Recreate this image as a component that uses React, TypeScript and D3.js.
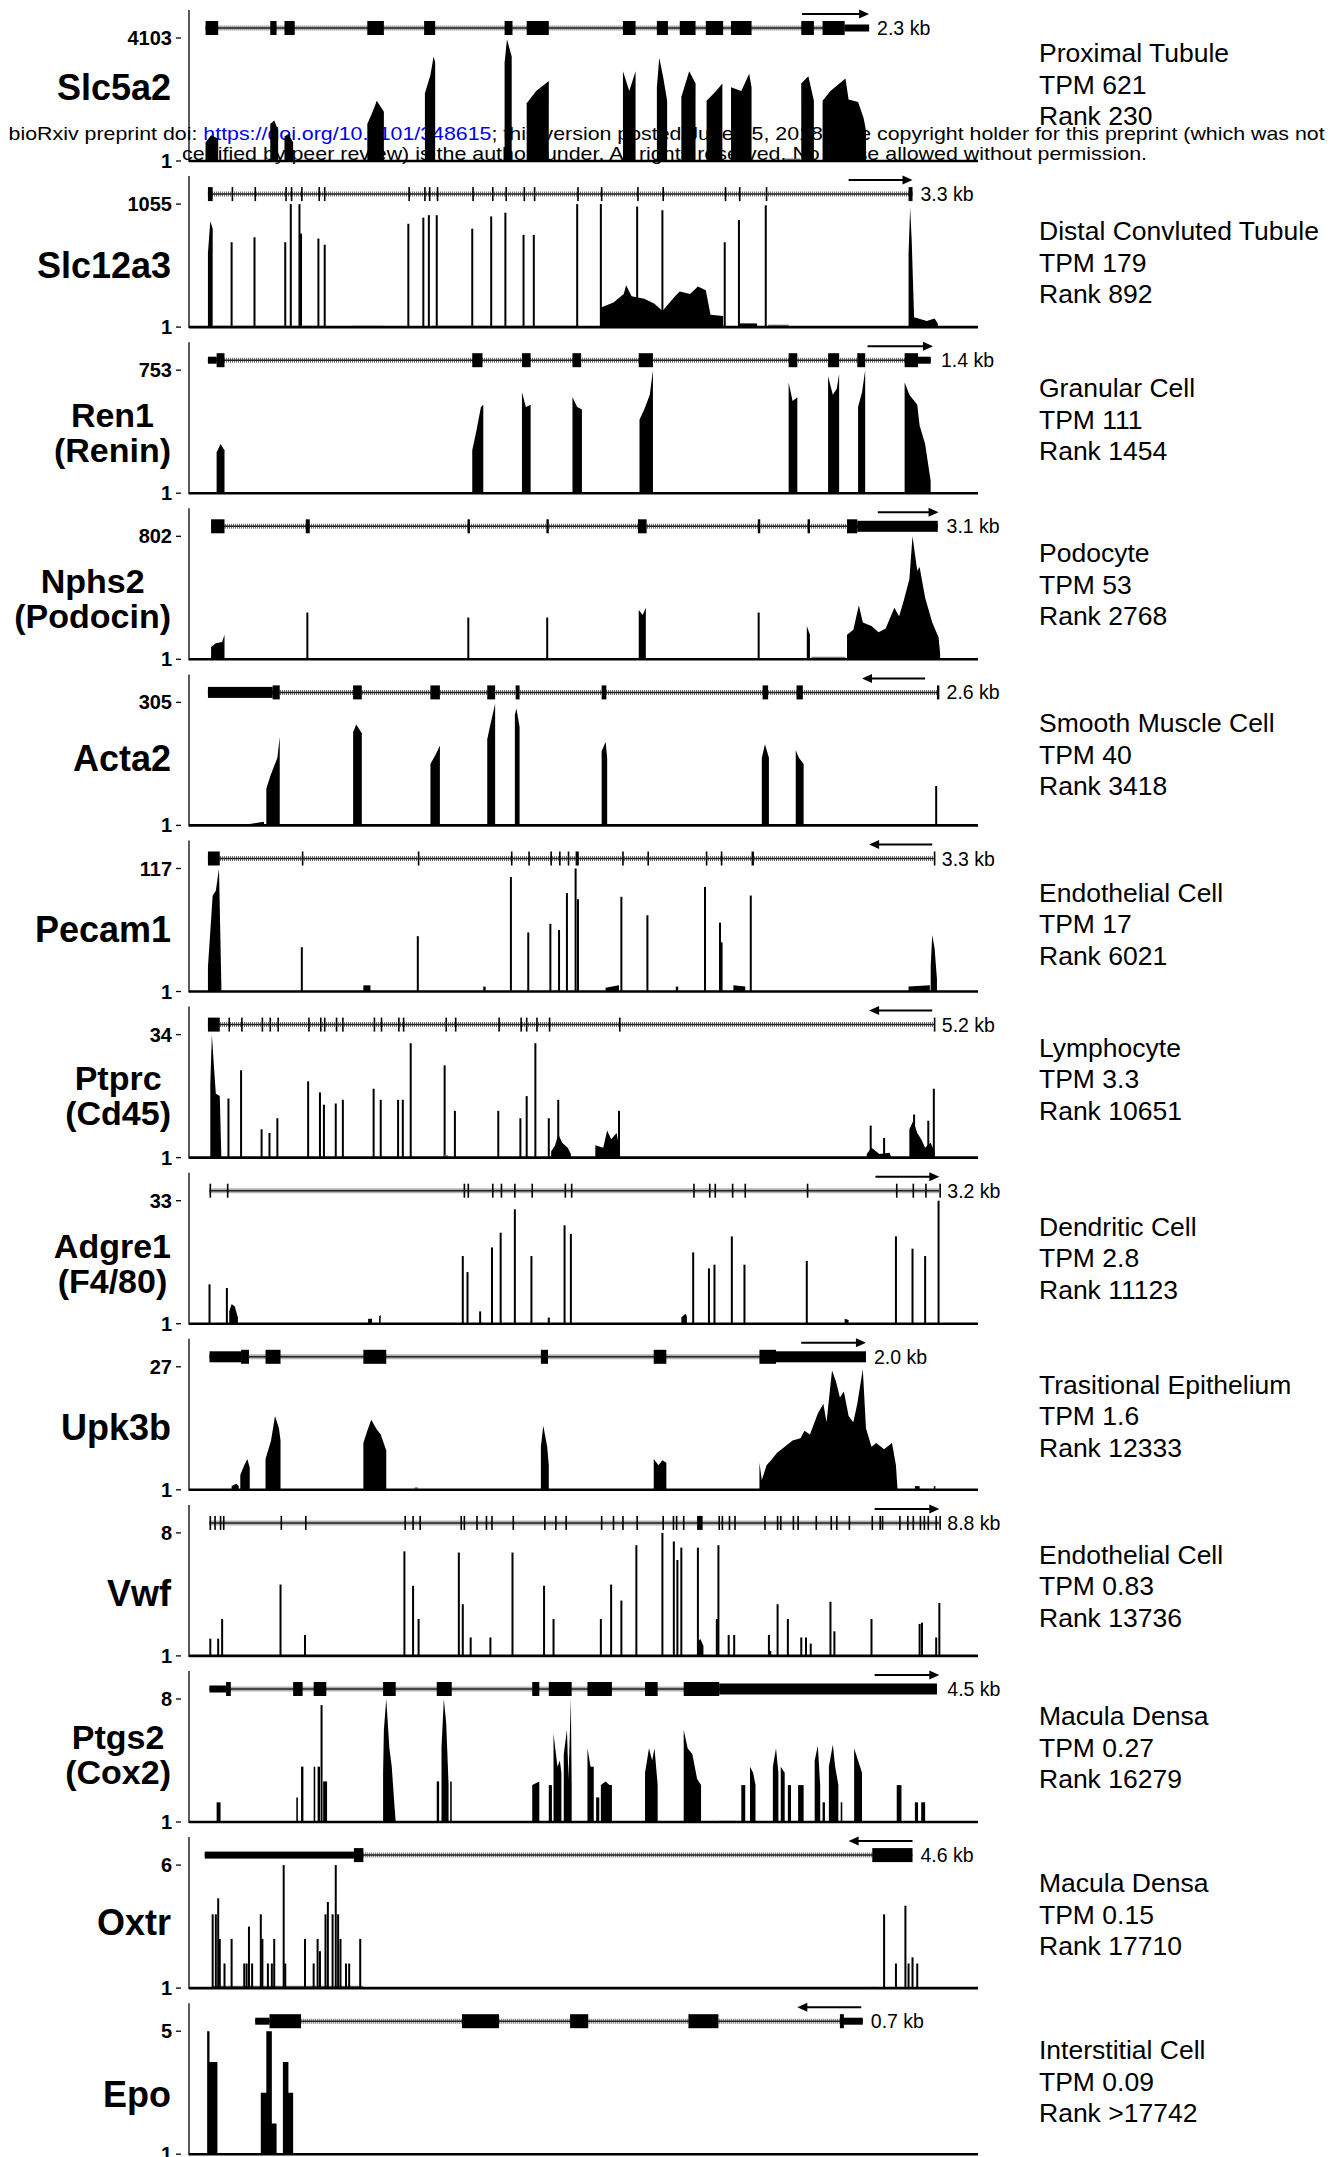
import React from 'react'
import * as d3 from 'd3'

const FONT = "'Liberation Sans', Arial, Helvetica, sans-serif"

// one entry per track, top to bottom
const geneNames = [
  ['Slc5a2'], ['Slc12a3'], ['Ren1', '(Renin)'], ['Nphs2', '(Podocin)'], ['Acta2'], ['Pecam1'],
  ['Ptprc', '(Cd45)'], ['Adgre1', '(F4/80)'], ['Upk3b'], ['Vwf'], ['Ptgs2', '(Cox2)'], ['Oxtr'], ['Epo'],
]
const cellTypes = [
  'Proximal Tubule', 'Distal Convluted Tubule', 'Granular Cell', 'Podocyte', 'Smooth Muscle Cell',
  'Endothelial Cell', 'Lymphocyte', 'Dendritic Cell', 'Trasitional Epithelium', 'Endothelial Cell',
  'Macula Densa', 'Macula Densa', 'Interstitial Cell',
]
const tpmValues = ['621', '179', '111', '53', '40', '17', '3.3', '2.8', '1.6', '0.83', '0.27', '0.15', '0.09']
const rankValues = ['230', '892', '1454', '2768', '3418', '6021', '10651', '11123', '12333', '13736', '16279', '17710', '>17742']
const maxLabels = ['4103', '1055', '753', '802', '305', '117', '34', '33', '27', '8', '8', '6', '5']
const kbLabels = ['2.3 kb', '3.3 kb', '1.4 kb', '3.1 kb', '2.6 kb', '3.3 kb', '5.2 kb', '3.2 kb', '2.0 kb', '8.8 kb', '4.5 kb', '4.6 kb', '0.7 kb']

// positions along the track in % of its width
const geneSpans = [
  [2.1, 86.2], [2.4, 91.7], [2.4, 94.0], [2.8, 94.9], [2.4, 95.0], [2.4, 94.4], [2.4, 94.4],
  [2.6, 95.1], [2.6, 85.8], [2.6, 95.1], [2.6, 94.8], [2.0, 91.7], [8.4, 85.4],
]
// arrow drawn from first value to second
const strandArrows = [
  [77.7, 86.2], [83.6, 91.7], [86.0, 94.3], [87.3, 95.0], [93.3, 85.3], [94.2, 86.2], [94.2, 86.2],
  [87.0, 95.1], [77.6, 85.8], [86.9, 95.1], [86.9, 95.1], [91.7, 83.6], [85.2, 77.1],
]

// exons: [start, end, kind] e = coding, t = thick utr, u = thin utr
const slc5a2Exons = [[2.1, 3.7, 'e'], [10.3, 11.1, 'e'], [12.1, 13.4, 'e'], [22.6, 24.7, 'e'], [29.8, 31.2, 'e'], [40.0, 41.0, 'e'], [42.8, 45.6, 'e'], [55.0, 56.6, 'e'], [59.3, 60.7, 'e'], [62.2, 64.2, 'e'], [65.5, 67.7, 'e'], [68.7, 71.3, 'e'], [77.6, 79.2, 'e'], [80.3, 83.1, 'e'], [83.1, 86.2, 'u']]
const slc12a3Exons = [[2.4, 3.0, 'e'], [91.2, 91.7, 'e']]
const slc12a3Ticks = [5.4, 8.3, 12.2, 12.9, 14.2, 16.4, 17.1, 27.8, 29.8, 30.4, 31.4, 35.9, 38.4, 40.1, 42.4, 43.7, 49.2, 52.2, 56.8, 60.0, 67.9, 69.7, 73.1]
const ren1Exons = [[2.4, 3.5, 'u'], [3.5, 4.5, 'e'], [35.9, 37.2, 'e'], [42.2, 43.3, 'e'], [48.6, 49.7, 'e'], [57.0, 58.8, 'e'], [76.0, 77.1, 'e'], [81.0, 82.4, 'e'], [84.7, 85.7, 'e'], [90.7, 92.4, 'e'], [92.4, 94.0, 'u']]
const nphs2Exons = [[2.8, 4.5, 'e'], [14.8, 15.3, 'e'], [35.3, 35.6, 'e'], [45.3, 45.6, 'e'], [56.9, 58.0, 'e'], [72.1, 72.4, 'e'], [78.4, 78.7, 'e'], [83.4, 84.7, 'e'], [84.7, 94.9, 't']]
const acta2Exons = [[2.4, 10.6, 't'], [10.6, 11.5, 'e'], [20.8, 21.9, 'e'], [30.6, 31.8, 'e'], [37.8, 38.8, 'e'], [41.4, 41.9, 'e'], [52.3, 52.9, 'e'], [72.7, 73.4, 'e'], [77.0, 77.8, 'e'], [94.8, 95.1, 'e']]
const pecam1Exons = [[2.4, 3.9, 'e'], [49.0, 49.4, 'e'], [71.3, 71.6, 'e']]
const pecam1Ticks = [14.3, 29.0, 40.8, 43.0, 45.8, 46.9, 48.0, 54.9, 58.1, 65.5, 67.4, 94.4]
const ptprcExons = [[2.4, 3.9, 'e']]
const ptprcTicks = [5.0, 6.6, 9.2, 10.2, 11.2, 15.1, 16.6, 17.1, 18.6, 19.4, 23.4, 24.3, 26.5, 27.1, 32.5, 33.7, 39.2, 42.0, 42.7, 44.0, 45.6, 54.5, 94.4]
const adgre1Exons = [[41.2, 41.4, 'e']]
const adgre1Ticks = [2.6, 4.8, 34.8, 35.3, 38.4, 39.5, 43.4, 47.6, 48.4, 63.9, 65.9, 66.6, 68.8, 70.4, 78.3, 89.6, 91.7, 93.3, 95.1]
const upk3bExons = [[2.6, 6.6, 't'], [6.6, 7.6, 'e'], [9.7, 11.6, 'e'], [22.1, 25.0, 'e'], [44.6, 45.5, 'e'], [58.9, 60.5, 'e'], [72.3, 74.4, 'e'], [74.4, 85.8, 't']]
const vwfExons = [[64.4, 65.1, 'e']]
const vwfTicks = [2.6, 3.2, 3.9, 4.3, 11.6, 14.7, 27.3, 28.3, 29.2, 34.4, 34.8, 36.4, 37.6, 38.3, 41.0, 45.0, 46.4, 47.7, 52.2, 53.7, 54.9, 56.7, 60.0, 61.3, 61.7, 62.6, 67.1, 67.5, 68.4, 69.1, 72.9, 74.5, 74.9, 76.5, 77.1, 79.4, 81.3, 82.0, 83.6, 86.5, 87.5, 87.8, 90.0, 91.0, 91.7, 92.6, 93.1, 93.6, 94.6, 95.1]
const ptgs2Exons = [[2.6, 4.7, 'u'], [4.7, 5.3, 'e'], [13.2, 14.4, 'e'], [15.8, 17.4, 'e'], [24.6, 26.2, 'e'], [31.4, 33.3, 'e'], [43.5, 44.4, 'e'], [45.6, 48.5, 'e'], [50.5, 53.6, 'e'], [57.8, 59.4, 'e'], [62.7, 67.2, 'e'], [67.2, 94.8, 't']]
const oxtrExons = [[2.0, 20.9, 'u'], [20.9, 22.1, 'e'], [86.6, 91.7, 'e']]
const epoExons = [[8.4, 10.2, 'u'], [10.2, 14.2, 'e'], [34.6, 39.3, 'e'], [48.3, 50.6, 'e'], [63.3, 67.1, 'e'], [82.5, 85.4, 'u'], [82.5, 83.0, 'e']]

// coverage, % of track max: [x, h] = single spike, [[x, h], ...] = filled block
const slc5a2Cov = [
  [[2.1, 15], [2.8, 21], [3.7, 18]], [[10.3, 30], [10.8, 33], [11.3, 25]], [[12.1, 20], [12.6, 22], [13.2, 15]],
  [[22.6, 30], [23.4, 42], [23.8, 49], [24.7, 40]], [[29.9, 55], [30.6, 70], [31.0, 85], [31.2, 80]],
  [[40.0, 80], [40.3, 99], [40.9, 85]], [[42.8, 47], [44.0, 57], [45.6, 65]], [[55.0, 73], [55.8, 57], [56.6, 73]],
  [[59.3, 60], [59.6, 84], [60.1, 68], [60.6, 49]], [[62.4, 52], [63.4, 73], [64.2, 63]], [[65.6, 49], [66.8, 57], [67.6, 63]],
  [[68.7, 60], [70.0, 57], [71.0, 71], [71.3, 60]], [[77.6, 63], [78.5, 69], [79.2, 49]],
  [[80.3, 49], [81.3, 57], [83.2, 67], [83.6, 50], [84.8, 48], [85.5, 35], [85.8, 25]], [[75.4, 2], [77.5, 2]],
]
const slc12a3Cov = [
  [[2.4, 60], [2.7, 86], [3.0, 80]],
  [5.4, 69], [8.3, 73], [12.2, 69], [12.9, 100], [14.0, 100], [14.2, 76], [16.4, 72], [17.2, 67], [27.8, 84],
  [29.7, 89], [30.4, 91], [31.4, 91], [35.9, 80], [38.3, 90], [40.1, 93], [42.4, 75], [43.7, 75], [49.2, 100],
  [52.2, 100], [56.8, 98], [60.0, 95], [67.9, 69], [69.7, 87], [73.1, 99],
  [[52.2, 16], [53.8, 20], [55.1, 27], [55.4, 34], [56.1, 25], [57.7, 23], [59.0, 19], [60.0, 13], [61.6, 25], [62.2, 29], [63.5, 27], [64.5, 33], [65.5, 30], [66.1, 10], [67.7, 9]],
  [[91.2, 60], [91.4, 97], [91.6, 70], [91.9, 8], [93.5, 5], [94.5, 7], [94.9, 3]],
  [[69.8, 3], [72.0, 3]], [[73.4, 2], [76.0, 2]], [[3.2, 1], [17.5, 1]], [[20.6, 1], [24.7, 1]], [[30.8, 1], [49.0, 1]],
]
const ren1Cov = [
  [[3.5, 33], [4.0, 40], [4.5, 35]], [[35.9, 35], [36.4, 50], [37.0, 70], [37.3, 72]], [[42.2, 82], [42.7, 70], [43.3, 72]],
  [[48.6, 78], [49.2, 70], [49.8, 68]], [[57.1, 60], [57.7, 68], [58.4, 80], [58.8, 100]], [[76.0, 90], [76.5, 75], [77.1, 78]],
  [[81.0, 95], [81.6, 80], [82.1, 85], [82.4, 97]], [[84.8, 70], [85.3, 82], [85.7, 100]],
  [[90.7, 90], [91.3, 80], [92.3, 72], [92.6, 55], [93.3, 40], [94.0, 10]],
  [[4.8, 1], [5.3, 1]], [[6.6, 1], [11.8, 1]], [[62.0, 1], [64.5, 1]], [[75.0, 1], [75.5, 1]], [[79.5, 1], [80.5, 1]], [[83.0, 1], [84.2, 1]], [[87.5, 1], [89.5, 1]],
]
const nphs2Cov = [
  [[2.8, 10], [3.4, 13], [4.2, 14], [4.5, 20]], [15.0, 38], [35.4, 34], [45.4, 34], [72.2, 38],
  [[57.0, 40], [57.5, 36], [57.9, 42]], [[78.3, 27], [78.7, 20]], [[78.9, 2], [83.2, 2]],
  [[83.4, 20], [84.2, 24], [84.9, 44], [85.4, 30], [86.5, 27], [87.4, 22], [88.3, 25], [89.4, 42], [90.0, 35], [90.6, 48], [91.3, 65], [91.7, 100], [92.3, 72], [92.6, 75], [93.3, 50], [94.2, 30], [95.0, 18], [95.2, 5]],
  [[5.0, 1], [21.0, 1]], [[35.7, 1], [44.5, 1]], [[58.5, 1], [65.0, 1]],
]
const acta2Cov = [
  [[3.0, 1], [7.5, 1], [8.5, 2], [9.5, 3]], [[9.8, 30], [10.3, 40], [10.6, 45], [11.2, 55], [11.5, 72]],
  [[20.8, 76], [21.2, 82], [21.9, 75]], [[30.6, 50], [31.3, 58], [31.8, 65]], [[37.8, 70], [38.2, 82], [38.8, 99]],
  [[41.3, 90], [41.5, 95], [41.9, 80]], [[52.3, 60], [52.8, 68], [53.0, 55]], [[72.6, 55], [73.0, 66], [73.5, 55]],
  [[76.9, 61], [77.3, 55], [77.9, 50]], [94.7, 32],
  [[43.0, 1], [49.0, 1]], [[60.0, 1], [61.0, 1]], [[75.0, 1], [76.0, 1]], [[80.0, 1], [95.0, 1]],
]
const pecam1Cov = [
  [[2.4, 20], [3.0, 78], [3.4, 82], [3.8, 100], [4.1, 5]],
  [14.3, 36], [29.0, 45], [40.8, 93], [43.0, 48], [45.8, 55], [46.9, 50], [47.9, 80], [49.0, 100], [49.3, 75],
  [54.8, 77], [58.1, 62], [65.4, 85], [67.3, 56], [67.5, 40], [71.2, 78],
  [[22.1, 5], [23.0, 5]], [[37.3, 4], [37.6, 4]], [[52.8, 3], [54.5, 5]], [[61.7, 4], [62.0, 4]], [[69.0, 5], [70.5, 4]], [[91.2, 4], [93.9, 5]],
  [[94.0, 20], [94.2, 46], [94.5, 35], [94.8, 10]],
]
const ptprcCov = [
  [[2.7, 60], [2.9, 100], [3.1, 80], [3.4, 52], [3.9, 50], [4.1, 0]],
  [5.0, 48], [6.6, 71], [9.2, 23], [10.2, 20], [11.2, 32], [15.1, 62], [16.6, 53], [17.1, 43], [18.6, 44], [19.5, 47],
  [23.4, 56], [24.3, 47], [26.5, 47], [27.1, 47], [28.1, 93], [32.4, 75], [33.7, 38], [39.2, 38], [42.0, 32], [42.8, 50],
  [43.9, 93], [45.6, 32], [46.8, 47], [54.5, 38], [86.4, 26], [88.1, 16], [91.9, 35], [93.7, 30], [94.4, 56],
  [[45.9, 5], [46.4, 10], [46.8, 19], [47.3, 12], [48.0, 8], [48.4, 3]], [[51.5, 10], [52.5, 8], [53.0, 22], [53.5, 15], [54.2, 20], [54.6, 5]],
  [[85.9, 3], [86.5, 8], [87.5, 3], [88.8, 4], [89.0, 0]], [[91.3, 23], [91.8, 30], [92.3, 20], [92.8, 15], [93.3, 8], [93.6, 10], [94.0, 12], [94.5, 5]],
  [[32.2, 2], [32.8, 2]],
]
const adgre1Cov = [
  [2.6, 32], [4.8, 29], [34.7, 55], [35.3, 42], [36.9, 10], [38.4, 62], [39.5, 74], [41.3, 93], [43.4, 55], [45.6, 5],
  [47.6, 80], [48.4, 73], [63.9, 58], [65.9, 45], [66.6, 48], [68.8, 71], [70.4, 48], [78.3, 51], [89.6, 71],
  [91.7, 61], [93.3, 55], [95.0, 100],
  [[5.1, 10], [5.4, 16], [5.8, 14], [6.2, 5]], [[22.7, 4], [23.2, 4]], [[24.1, 6], [24.3, 7]], [[62.4, 5], [62.9, 8], [63.1, 6]], [[83.1, 4], [83.6, 3]],
]
const upk3bCov = [
  [[5.4, 3], [6.0, 5], [6.3, 3]], [[6.5, 12], [7.0, 20], [7.4, 25], [7.7, 18]], [[9.7, 25], [10.4, 40], [10.9, 60], [11.4, 50], [11.6, 40]],
  [[22.1, 38], [22.6, 48], [23.1, 57], [23.7, 50], [24.3, 45], [25.0, 32]], [[28.6, 2], [29.0, 2]],
  [[44.6, 35], [44.9, 52], [45.4, 35], [45.6, 20]], [[58.9, 25], [59.5, 20], [60.0, 24], [60.5, 22]],
  [[72.3, 22], [72.6, 8], [73.2, 20], [73.9, 25], [74.5, 30], [75.5, 35], [76.5, 40], [77.5, 42], [78.0, 48], [78.7, 45], [79.7, 62], [80.4, 70], [80.8, 55], [81.5, 97], [82.0, 88], [82.5, 75], [83.0, 80], [83.6, 60], [84.2, 55], [84.7, 70], [85.4, 98], [85.8, 50], [86.5, 35], [87.1, 38], [88.1, 33], [89.1, 38], [89.6, 20], [89.8, 0]],
  [[92.0, 3], [92.6, 3]], [[94.4, 3], [94.6, 3]],
]
const vwfCov = [
  [2.7, 14], [3.7, 14], [4.2, 30], [11.6, 58], [14.7, 17], [27.3, 85], [28.4, 57], [29.1, 30], [34.2, 84], [34.7, 42],
  [35.7, 15], [38.2, 15], [41.0, 84], [45.0, 57], [46.2, 30], [52.2, 30], [53.5, 58], [54.8, 45], [56.7, 90], [60.0, 100],
  [61.45, 93], [61.9, 78], [62.4, 88], [64.5, 88], [67.1, 90], [66.9, 30], [68.4, 17], [69.1, 17], [73.5, 17], [74.6, 42],
  [75.9, 30], [77.6, 15], [78.2, 15], [78.8, 10], [81.3, 44], [81.8, 20], [86.5, 30], [92.6, 26], [92.9, 27], [94.7, 15], [95.1, 43],
  [[64.4, 10], [64.8, 14], [65.2, 8]], [[73.4, 4], [73.8, 4]],
]
const ptgs2Cov = [
  [[3.5, 16], [4.0, 16]], [[13.6, 20], [13.8, 20]], [[14.2, 45], [14.5, 45]], [[15.8, 45], [16.0, 45]], [[16.3, 45], [16.6, 45]], [16.8, 95], [[17.0, 33], [17.5, 33]],
  [[24.6, 40], [24.7, 75], [25.0, 100], [25.4, 60], [25.7, 45], [26.0, 17], [26.2, 0]],
  [[31.4, 33], [31.7, 33]], [[32.0, 60], [32.3, 100], [32.6, 80], [32.9, 30]], [[33.1, 33], [33.3, 33]], [[43.5, 30], [44.4, 33]],
  [[45.6, 30], [46.0, 30]], [[46.2, 72], [46.7, 45], [47.0, 50], [47.2, 40]], [[47.5, 55], [47.9, 75], [48.1, 35], [48.4, 100], [48.5, 30]],
  [[50.5, 60], [50.9, 45], [51.3, 45]], [[51.6, 20], [52.0, 20]], [[52.2, 30], [52.8, 33], [53.3, 30], [53.6, 30]],
  [[57.8, 40], [58.3, 60], [58.7, 50], [59.0, 60], [59.4, 30]], [[62.7, 75], [63.2, 60], [63.8, 55], [64.4, 35], [64.9, 30]],
  [[67.2, 1], [69.5, 1]], [[70.0, 30], [70.5, 30]], [[71.1, 45], [71.5, 40], [71.8, 30]],
  [[74.0, 45], [74.4, 60], [74.7, 40]], [[75.0, 45], [75.5, 40]], [[75.9, 30], [76.3, 30]],
  [[77.2, 30], [77.9, 30]], [[79.3, 50], [79.7, 62], [80.0, 30]], [[80.3, 16], [80.6, 16]],
  [[81.1, 45], [81.6, 63], [81.9, 45], [82.3, 30]], [[82.6, 16], [82.8, 16]], [[84.3, 60], [84.8, 50], [85.3, 40]],
  [[89.7, 30], [90.3, 30]], [[92.0, 16], [92.4, 16]], [[92.8, 16], [93.3, 16]],
]
const oxtrCov = [
  [[3.0, 2], [22.0, 2]],
  [3.0, 60], [3.4, 60], [3.7, 73], [3.9, 40], [4.5, 20], [5.4, 40], [7.0, 20], [7.3, 20], [7.6, 50], [8.0, 20], [9.1, 60],
  [9.3, 40], [10.0, 20], [10.5, 20], [10.8, 40], [12.0, 100], [12.2, 20], [14.7, 40], [15.8, 20], [16.3, 40], [16.6, 30],
  [17.3, 60], [17.6, 70], [18.2, 60], [18.6, 100], [18.9, 60], [19.2, 40], [19.9, 20], [20.3, 20], [21.7, 40],
  [88.1, 60], [89.6, 20], [90.8, 67], [91.2, 20], [91.7, 25], [92.3, 20], [[86.5, 1], [86.8, 1]],
]
const epoCov = [
  [[2.3, 100], [2.6, 100], [2.6, 75], [3.6, 75]],
  [[9.1, 50], [9.8, 50], [9.8, 100], [10.5, 100], [10.5, 25], [11.1, 25]],
  [[11.9, 75], [12.6, 75], [12.6, 50], [13.2, 50]],
]

const exonSets = [slc5a2Exons, slc12a3Exons, ren1Exons, nphs2Exons, acta2Exons, pecam1Exons, ptprcExons, adgre1Exons, upk3bExons, vwfExons, ptgs2Exons, oxtrExons, epoExons]
const tickSets = [[], slc12a3Ticks, [], [], [], pecam1Ticks, ptprcTicks, adgre1Ticks, [], vwfTicks, [], [], []]
const coverageSets = [slc5a2Cov, slc12a3Cov, ren1Cov, nphs2Cov, acta2Cov, pecam1Cov, ptprcCov, adgre1Cov, upk3bCov, vwfCov, ptgs2Cov, oxtrCov, epoCov]

// layout
const plotLeft = 189
const plotRight = 978
const firstBase = 161
const pitch = 166.1
const exonH = { e: 14, t: 11, u: 7 }
const nameNudge = [-12, 0, 0, 0, -5, 0, -2, 0, 0, 0, -7, -4, 2]
const infoNudge = [-7, 5, -4, -5, -1, 2, -9, 4, -4, 0, -5, -4, -3]

const ctx = typeof document !== 'undefined' ? document.createElement('canvas').getContext('2d') : null
const textWidth = (t, font) => {
  if (!ctx) return t.length * 18
  ctx.font = font
  return ctx.measureText(t).width
}

const x = d3.scaleLinear().domain([0, 100]).range([plotLeft, plotRight])

const Track = ({ i }) => {
  const base = firstBase + i * pitch
  const y = d3.scaleLinear().domain([0, 100]).range([base, base - 123])
  const area = d3.area().x((d) => x(d[0])).y0(base).y1((d) => y(d[1]))
  const geneY = base - 133
  const arrowY = base - 147
  const [g0, g1] = geneSpans[i]
  const [a0, a1] = strandArrows[i]
  const dir = a1 > a0 ? 1 : -1
  const exons = [...exonSets[i], ...tickSets[i].map((t) => [t, t, 'e'])]
  const cov = coverageSets[i]

  const name = geneNames[i]
  const two = name.length > 1
  const nameSize = two ? 34 : 36
  const nameFont = `bold ${nameSize}px ${FONT}`
  const nameW = Math.max(...name.map((n) => textWidth(n, nameFont)))
  const nameX = two ? 171 - nameW / 2 : 171
  const nameYs = (two ? [base - 78, base - 43] : [base - 62]).map((v) => v + nameNudge[i])

  return (
    <g>
      {/* coverage */}
      {cov.map((c, k) => {
        if (Array.isArray(c[0])) {
          const pts = c
          const full = [[pts[0][0], 0], ...pts, [pts[pts.length - 1][0], 0]]
          const low = d3.max(pts, (p) => p[1]) <= 2
          return <path key={k} d={area(full)} fill={low ? '#777' : '#000'} />
        }
        const [px, h] = c
        return <rect key={k} x={x(px) - 1} y={y(h)} width={2} height={base - y(h)} fill="#000" />
      })}

      {/* axes */}
      <line x1={plotLeft} x2={plotLeft} y1={base - 151} y2={base + 1} stroke="#000" strokeWidth={1.3} />
      <line x1={plotLeft} x2={plotRight} y1={base} y2={base} stroke="#000" strokeWidth={2.6} />
      {[100, 0].map((v) => (
        <g key={v}>
          <text x={172} y={y(v)} textAnchor="end" dominantBaseline="central" fontFamily={FONT} fontWeight="bold" fontSize={20}>
            {v === 100 ? maxLabels[i] : '1'}
          </text>
          <line x1={176} x2={181} y1={y(v)} y2={y(v)} stroke="#000" strokeWidth={1.3} />
        </g>
      ))}

      {/* gene model */}
      <line x1={x(g0)} x2={x(g1)} y1={geneY} y2={geneY} stroke="#666" strokeWidth={5} strokeDasharray="1 1" />
      <line x1={x(g0)} x2={x(g1)} y1={geneY} y2={geneY} stroke="#222" strokeWidth={1.5} />
      {exons.map(([s, e, kind], k) => {
        const hh = exonH[kind]
        const w = Math.max(1.6, x(e) - x(s))
        return <rect key={k} x={x(s)} y={geneY - hh / 2} width={w} height={hh} fill="#000" />
      })}
      <line x1={x(a0)} x2={x(a1) - dir * 8} y1={arrowY} y2={arrowY} stroke="#000" strokeWidth={2} />
      <path
        d={`M${x(a1)},${arrowY} L${x(a1) - dir * 10},${arrowY - 4.5} L${x(a1) - dir * 10},${arrowY + 4.5} Z`}
        fill="#000"
      />
      <text x={x(Math.max(g1, a0, a1)) + 8} y={geneY} dominantBaseline="central" fontFamily={FONT} fontSize={19.5}>
        {kbLabels[i]}
      </text>

      {/* gene name */}
      {name.map((n, k) => (
        <text
          key={n}
          x={nameX}
          y={nameYs[k]}
          textAnchor={two ? 'middle' : 'end'}
          dominantBaseline="central"
          fontFamily={FONT}
          fontWeight="bold"
          fontSize={nameSize}
        >
          {n}
        </text>
      ))}

      {/* cell type info */}
      {[cellTypes[i], `TPM ${tpmValues[i]}`, `Rank ${rankValues[i]}`].map((t, k) => (
        <text key={k} x={1039} y={base - 101 + infoNudge[i] + k * 31.5} dominantBaseline="central" fontFamily={FONT} fontSize={26.5}>
          {t}
        </text>
      ))}
    </g>
  )
}

export default function App() {
  return (
    <svg width={1344} height={2157} style={{ position: 'absolute', left: 0, top: 0, background: '#fff' }}>
      <rect width={1344} height={2157} fill="#fff" />
      {/* preprint banner sits under the tracks */}
      <text x={8.6} y={140} fontFamily={FONT} fontSize={19} textLength={1316} lengthAdjust="spacingAndGlyphs">
        bioRxiv preprint doi: <tspan fill="#0000ee">https://doi.org/10.1101/348615</tspan>; this version posted June 15, 2018. The copyright holder for this preprint (which was not
      </text>
      <text x={182} y={160} fontFamily={FONT} fontSize={19} textLength={965} lengthAdjust="spacingAndGlyphs">
        certified by peer review) is the author/funder. All rights reserved. No reuse allowed without permission.
      </text>
      {geneNames.map((_, i) => (
        <Track key={i} i={i} />
      ))}
    </svg>
  )
}
